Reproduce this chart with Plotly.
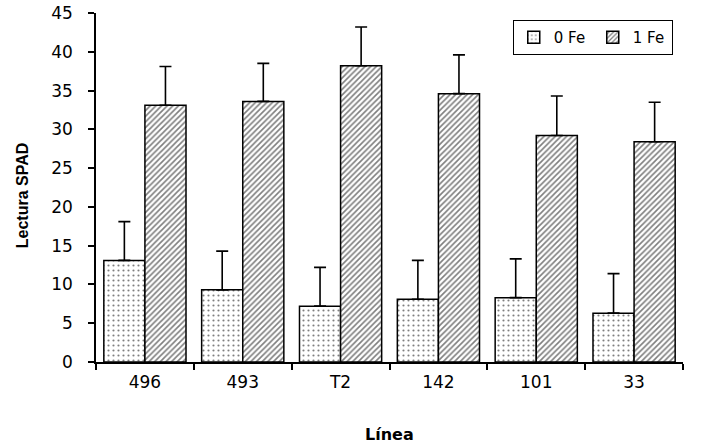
import plotly.graph_objects as go

categories = ["496", "493", "T2", "142", "101", "33"]
fe0_values = [13.1, 9.3, 7.2, 8.1, 8.3, 6.3]
fe0_errors = [5.0, 5.0, 5.0, 5.0, 5.0, 5.1]
fe1_values = [33.1, 33.6, 38.2, 34.6, 29.2, 28.4]
fe1_errors = [5.0, 4.9, 5.0, 5.0, 5.1, 5.1]
series_names = ["0 Fe", "1 Fe"]
x_title = "Línea"
y_title = "Lectura SPAD"

wide_font = "DejaVu Sans, sans-serif"
narrow_font = "Liberation Sans Narrow, Arial Narrow, Arial, sans-serif"

fig = go.Figure()
fig.add_trace(go.Bar(
    x=categories, y=fe0_values, name=series_names[0],
    marker=dict(color="white", line=dict(color="black", width=1.5),
                pattern=dict(shape=".", fgcolor="black", bgcolor="white", size=5, solidity=0.15)),
    error_y=dict(type="data", array=fe0_errors, arrayminus=[0]*len(fe0_errors), symmetric=False,
                 color="black", thickness=1.6, width=6),
))
fig.add_trace(go.Bar(
    x=categories, y=fe1_values, name=series_names[1],
    marker=dict(color="white", line=dict(color="black", width=1.5),
                pattern=dict(shape="/", fgcolor="black", bgcolor="white", size=4, solidity=0.4)),
    error_y=dict(type="data", array=fe1_errors, arrayminus=[0]*len(fe1_errors), symmetric=False,
                 color="black", thickness=1.6, width=6),
))

fig.update_layout(
    width=705, height=444,
    margin=dict(l=96, r=22, t=13, b=82, autoexpand=False),
    paper_bgcolor="white", plot_bgcolor="white",
    barmode="group", bargap=0.16, bargroupgap=0,
    font=dict(family=wide_font, color="black", size=17),
    showlegend=True,
    legend=dict(orientation="h", x=0.71, y=0.98, xanchor="left", yanchor="top",
                bordercolor="black", borderwidth=1, bgcolor="white",
                font=dict(size=15, family=wide_font),
                entrywidth=34, itemwidth=30),
    xaxis=dict(
        automargin=False,
        showline=True, linecolor="black", linewidth=1.5,
        ticks="outside", ticklen=6, tickcolor="black", tickwidth=1.5,
        tickson="boundaries", showgrid=False,
        tickfont=dict(size=17, family=wide_font), ticklabelstandoff=4,
    ),
    yaxis=dict(
        automargin=False,
        range=[0, 45], dtick=5,
        showline=True, linecolor="black", linewidth=1.5,
        ticks="outside", ticklen=6, tickcolor="black", tickwidth=1.5,
        showgrid=False, zeroline=False,
        tickfont=dict(size=17, family=wide_font), ticklabelstandoff=12,
    ),
    annotations=[
        dict(text="<b>" + x_title + "</b>", xref="paper", yref="paper", x=0.5, y=-0.209,
             xanchor="center", yanchor="middle", showarrow=False,
             font=dict(size=16, family=wide_font)),
        dict(text="<b>" + y_title + "</b>", xref="paper", yref="paper", x=-0.126, y=0.478,
             xanchor="center", yanchor="middle", showarrow=False, textangle=-90,
             font=dict(size=16, family=narrow_font)),
    ],
)

fig.write_html("out.html", config={"displayModeBar": False},
               post_script="document.body.style.margin='0';")
